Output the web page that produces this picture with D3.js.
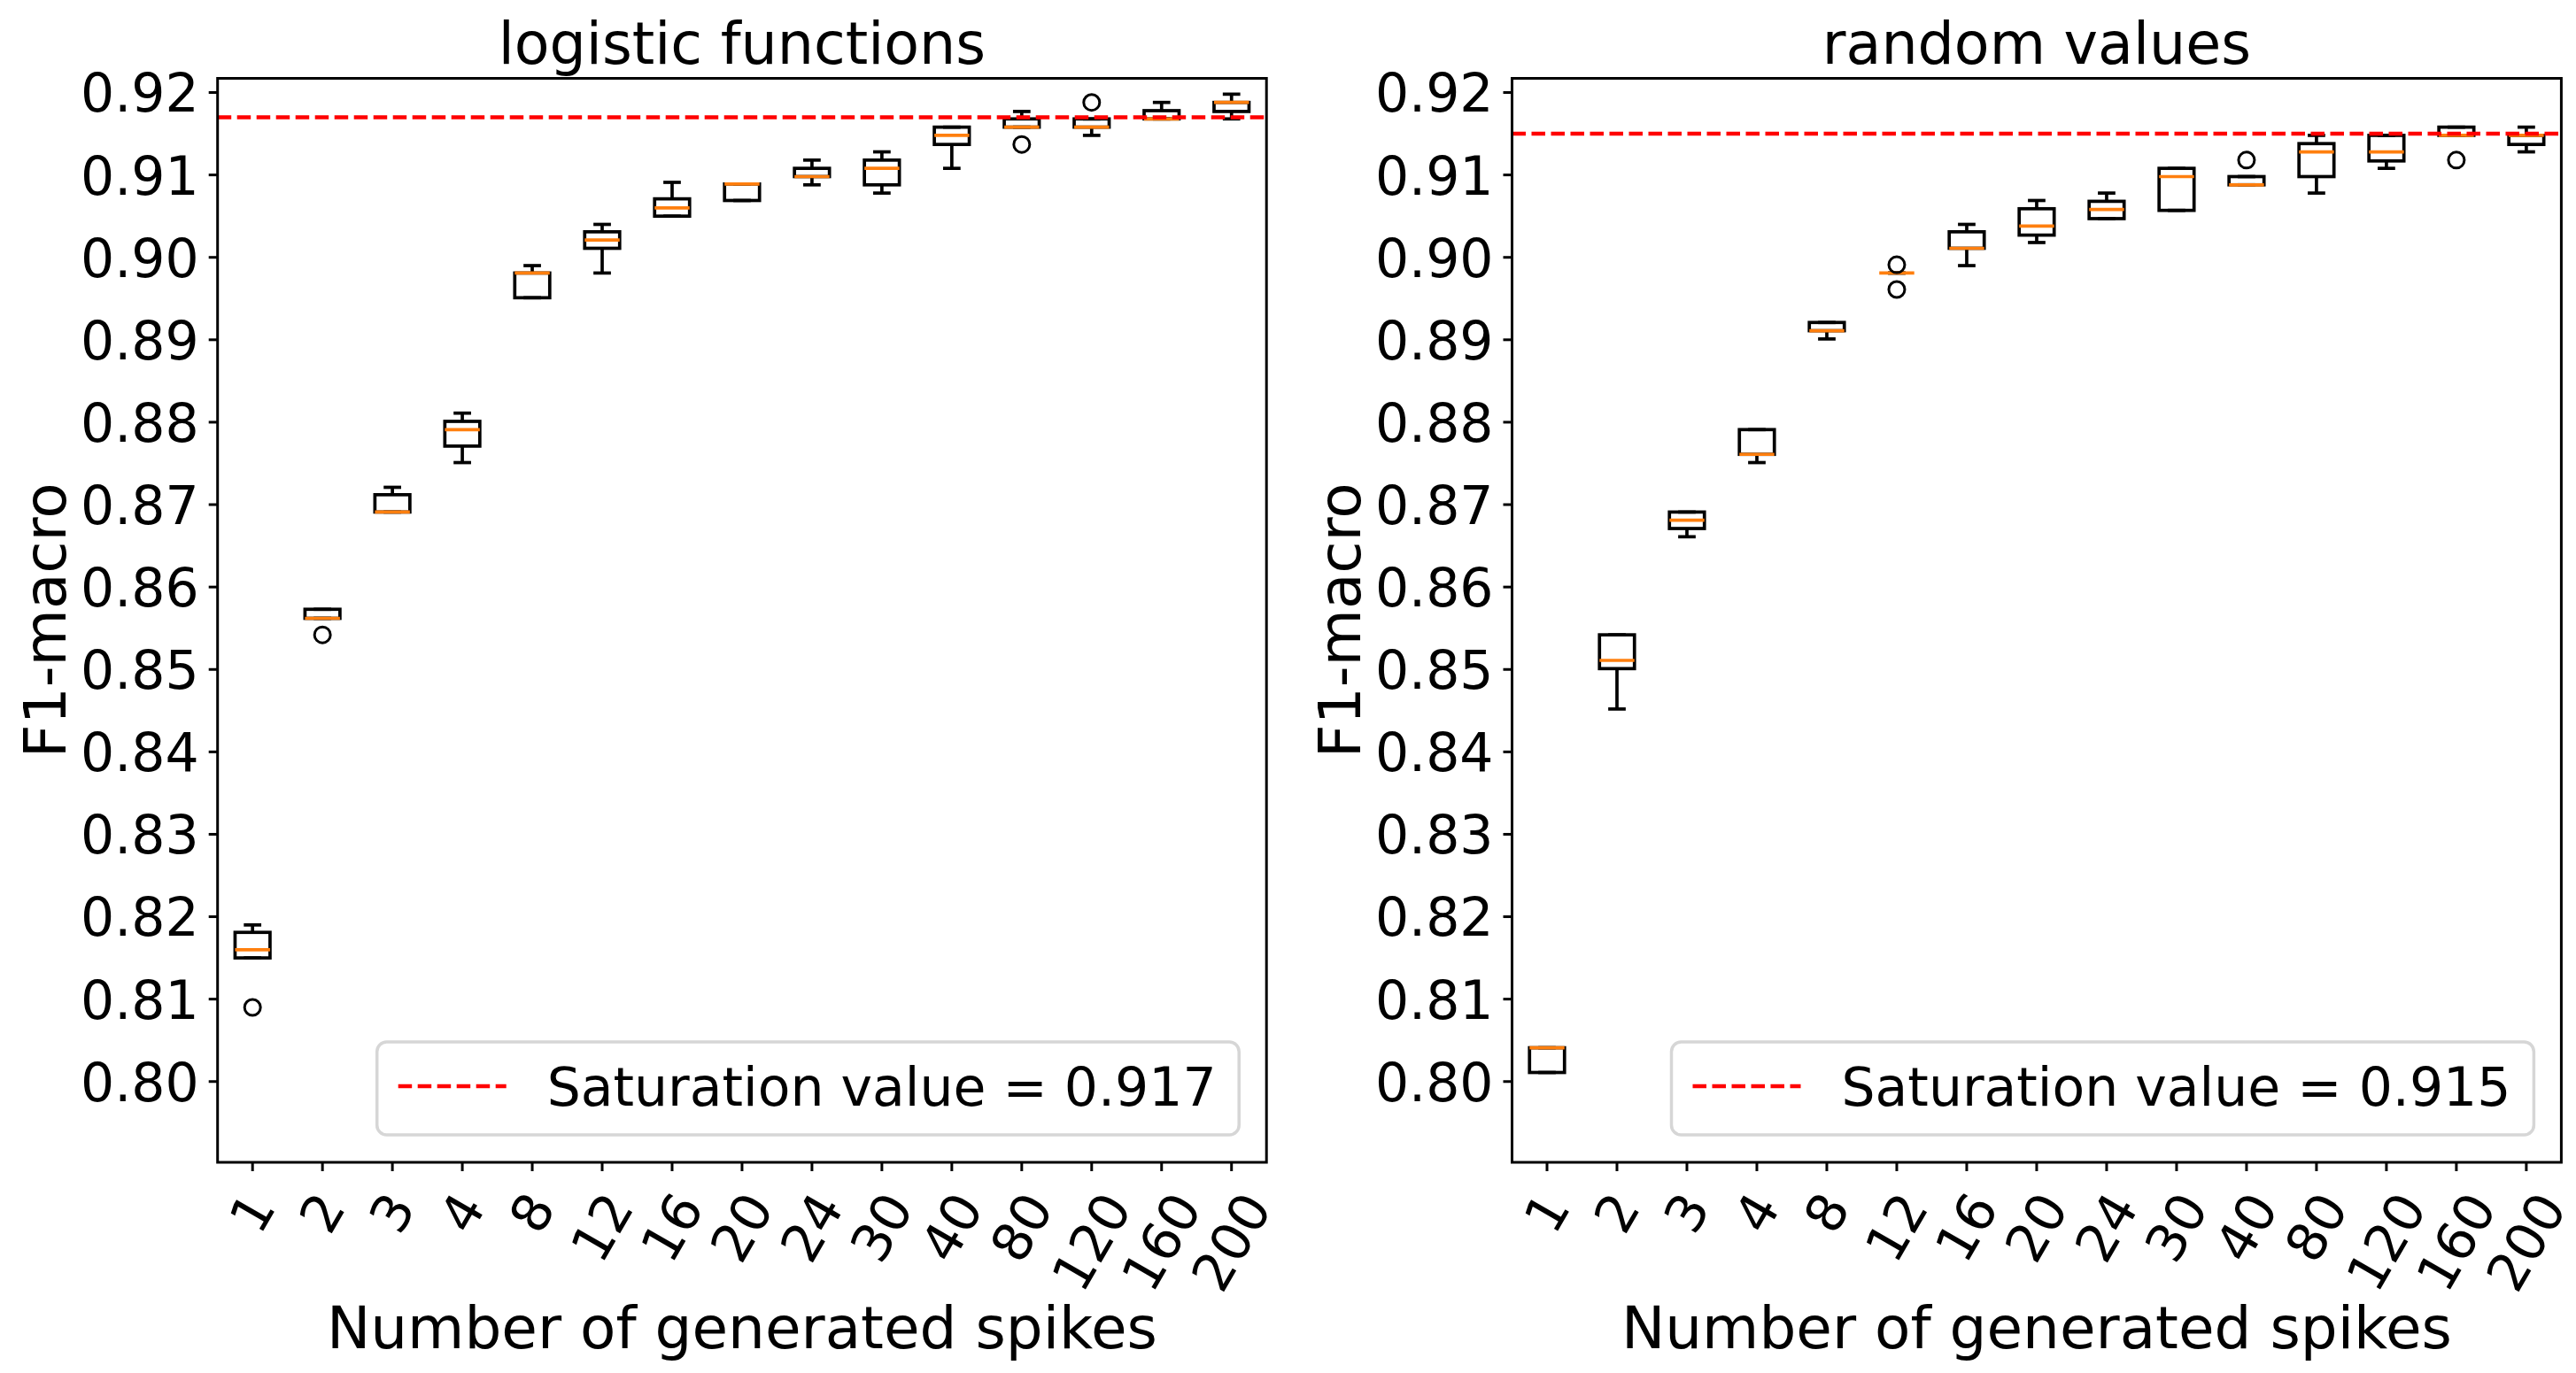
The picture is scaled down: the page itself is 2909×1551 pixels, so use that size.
<!DOCTYPE html>
<html>
<head>
<meta charset="utf-8">
<script src="https://cdn.jsdelivr.net/npm/d3@7"></script>
<style>
  html, body { margin: 0; padding: 0; background: #fff; }
  svg { display: block; }
  text { font-family: "DejaVu Sans", sans-serif; fill: #000; }
</style>
</head>
<body>
<svg id="chart" width="2909" height="1551"></svg>
<script>
// ---------------- DATA ----------------
const categories = ["1","2","3","4","8","12","16","20","24","30","40","80","120","160","200"];
const yTicks = [0.80,0.81,0.82,0.83,0.84,0.85,0.86,0.87,0.88,0.89,0.90,0.91,0.92];

// logistic functions panel
const logisticLow  = [0.8150,0.8562,0.8691,0.8751,0.8951,0.8981,0.9050,0.9069,0.9088,0.9078,0.9108,0.9158,0.9148,0.9168,0.9168];
const logisticQ1   = [0.8150,0.8562,0.8691,0.8771,0.8951,0.9011,0.9050,0.9069,0.9098,0.9088,0.9137,0.9158,0.9158,0.9168,0.9177];
const logisticMed  = [0.8160,0.8562,0.8691,0.8791,0.8981,0.9021,0.9060,0.9089,0.9098,0.9108,0.9148,0.9158,0.9158,0.9168,0.9188];
const logisticQ3   = [0.8181,0.8573,0.8712,0.8801,0.8981,0.9031,0.9071,0.9089,0.9108,0.9118,0.9158,0.9168,0.9168,0.9178,0.9188];
const logisticHigh = [0.8190,0.8573,0.8721,0.8811,0.8990,0.9040,0.9091,0.9089,0.9118,0.9128,0.9158,0.9177,0.9168,0.9188,0.9198];
const logisticFliers = [[0.8090],[0.8542],[],[],[],[],[],[],[],[],[],[0.9137],[0.9188],[],[]];
const logisticSaturation = 0.917;

// random values panel
const randomLow  = [0.8011,0.8452,0.8661,0.8751,0.8901,0.8981,0.8990,0.9018,0.9047,0.9057,0.9088,0.9078,0.9108,0.9148,0.9128];
const randomQ1   = [0.8011,0.8501,0.8671,0.8761,0.8911,0.8981,0.9011,0.9027,0.9047,0.9057,0.9088,0.9098,0.9117,0.9148,0.9137];
const randomMed  = [0.8041,0.8511,0.8681,0.8761,0.8911,0.8981,0.9011,0.9038,0.9058,0.9098,0.9088,0.9128,0.9128,0.9148,0.9148];
const randomQ3   = [0.8041,0.8542,0.8691,0.8791,0.8921,0.8981,0.9031,0.9059,0.9068,0.9108,0.9098,0.9138,0.9148,0.9158,0.9148];
const randomHigh = [0.8041,0.8542,0.8691,0.8791,0.8921,0.8981,0.9040,0.9069,0.9078,0.9108,0.9098,0.9148,0.9148,0.9158,0.9158];
const randomFliers = [[],[],[],[],[],[0.8991,0.8961],[],[],[],[],[0.9118],[],[],[0.9118],[]];
const randomSaturation = 0.915;

const panelTitles = ["logistic functions", "random values"];
const xLabel = "Number of generated spikes";
const yLabel = "F1-macro";
const legendPrefix = "Saturation value = ";

// ---------------- LAYOUT ----------------
const svg = d3.select("#chart");
const plotTop = 88.5, plotBottom = 1313;
const panelX = [[245.7, 1430.2], [1707.5, 2892.4]];
const yDomain = [0.7902, 0.92172];
const tickFs = 60, labelFs = 66, titleFs = 65, legendFs = 60;
const boxLw = 3.7, spineLw = 3;

const panels = [
  {title: panelTitles[0], low: logisticLow, q1: logisticQ1, med: logisticMed, q3: logisticQ3, high: logisticHigh, fliers: logisticFliers, sat: logisticSaturation},
  {title: panelTitles[1], low: randomLow, q1: randomQ1, med: randomMed, q3: randomQ3, high: randomHigh, fliers: randomFliers, sat: randomSaturation}
];

panels.forEach((p, pi) => {
  const [x0, x1] = panelX[pi];
  const x = d3.scalePoint().domain(categories).range([x0, x1]).padding(0.5);
  const y = d3.scaleLinear().domain(yDomain).range([plotBottom, plotTop]);
  const step = x.step();
  const bw = 0.5 * step;
  const g = svg.append("g");

  // boxes
  categories.forEach((c, i) => {
    const cx = x(c);
    const bg = g.append("g");
    bg.append("line").attr("x1", cx).attr("x2", cx).attr("y1", y(p.q3[i])).attr("y2", y(p.high[i]))
      .attr("stroke", "#000").attr("stroke-width", boxLw);
    bg.append("line").attr("x1", cx).attr("x2", cx).attr("y1", y(p.q1[i])).attr("y2", y(p.low[i]))
      .attr("stroke", "#000").attr("stroke-width", boxLw);
    [p.high[i], p.low[i]].forEach(v => {
      bg.append("line").attr("x1", cx - bw / 4).attr("x2", cx + bw / 4).attr("y1", y(v)).attr("y2", y(v))
        .attr("stroke", "#000").attr("stroke-width", boxLw);
    });
    bg.append("rect").attr("x", cx - bw / 2).attr("width", bw)
      .attr("y", y(p.q3[i])).attr("height", Math.max(0, y(p.q1[i]) - y(p.q3[i])))
      .attr("fill", "none").attr("stroke", "#000").attr("stroke-width", boxLw)
      .attr("stroke-linejoin", "miter");
    bg.append("line").attr("x1", cx - bw / 2).attr("x2", cx + bw / 2).attr("y1", y(p.med[i])).attr("y2", y(p.med[i]))
      .attr("stroke", "#ff7f0e").attr("stroke-width", boxLw);
    p.fliers[i].forEach(v => {
      bg.append("circle").attr("cx", cx).attr("cy", y(v)).attr("r", 9)
        .attr("fill", "none").attr("stroke", "#000").attr("stroke-width", 3);
    });
  });

  // saturation line
  g.append("line").attr("x1", x0).attr("x2", x1).attr("y1", y(p.sat)).attr("y2", y(p.sat))
    .attr("stroke", "#ff0000").attr("stroke-width", 4.5).attr("stroke-dasharray", "15.5,6.5");

  // spines
  g.append("rect").attr("x", x0).attr("y", plotTop).attr("width", x1 - x0).attr("height", plotBottom - plotTop)
    .attr("fill", "none").attr("stroke", "#000").attr("stroke-width", spineLw);

  // y axis ticks
  yTicks.forEach(t => {
    const ty = y(t);
    g.append("line").attr("x1", x0 - 10).attr("x2", x0).attr("y1", ty).attr("y2", ty)
      .attr("stroke", "#000").attr("stroke-width", spineLw);
    g.append("text").attr("x", x0 - 21).attr("y", ty + 0.365 * tickFs)
      .attr("text-anchor", "end").attr("font-size", tickFs).text(d3.format(".2f")(t));
  });

  // x axis ticks + rotated labels
  const labelTop = plotBottom + 10 + 13;
  categories.forEach(c => {
    const tx = x(c);
    g.append("line").attr("x1", tx).attr("x2", tx).attr("y1", plotBottom).attr("y2", plotBottom + 10)
      .attr("stroke", "#000").attr("stroke-width", spineLw);
    const t = g.append("text").attr("font-size", tickFs).attr("text-anchor", "middle")
      .attr("x", 0).attr("y", 0.346 * tickFs).text(c);
    const w = t.node().getComputedTextLength();
    const h = 1.164 * tickFs;
    const ext = w * Math.sin(Math.PI / 3) + h * Math.cos(Math.PI / 3);
    t.attr("transform", `translate(${tx},${labelTop + ext / 2}) rotate(-60)`);
  });

  // title
  g.append("text").attr("x", (x0 + x1) / 2).attr("y", 72).attr("text-anchor", "middle")
    .attr("font-size", titleFs).text(p.title);
  // x label
  g.append("text").attr("x", (x0 + x1) / 2).attr("y", 1523).attr("text-anchor", "middle")
    .attr("font-size", labelFs).text(xLabel);
  // y label
  g.append("text").attr("transform", `translate(${x0 - 172},${(plotTop + plotBottom) / 2}) rotate(-90)`)
    .attr("text-anchor", "middle").attr("font-size", labelFs).text(yLabel);

  // legend
  const lx = x0 + 180, rx = x1 - 31, ly = 1177, lh = 105;
  g.append("rect").attr("x", lx).attr("y", ly).attr("width", rx - lx).attr("height", lh)
    .attr("rx", 11).attr("ry", 11).attr("fill", "#fff").attr("fill-opacity", 0.8)
    .attr("stroke", "#d6d6d6").attr("stroke-width", 3.5);
  const lmid = ly + 50;
  g.append("line").attr("x1", lx + 24).attr("x2", lx + 146).attr("y1", lmid).attr("y2", lmid)
    .attr("stroke", "#ff0000").attr("stroke-width", 4.5).attr("stroke-dasharray", "15.5,6.5");
  g.append("text").attr("x", lx + 192).attr("y", lmid + 0.365 * legendFs).attr("font-size", legendFs)
    .text(legendPrefix + d3.format(".3f")(p.sat));
});
</script>
</body>
</html>
